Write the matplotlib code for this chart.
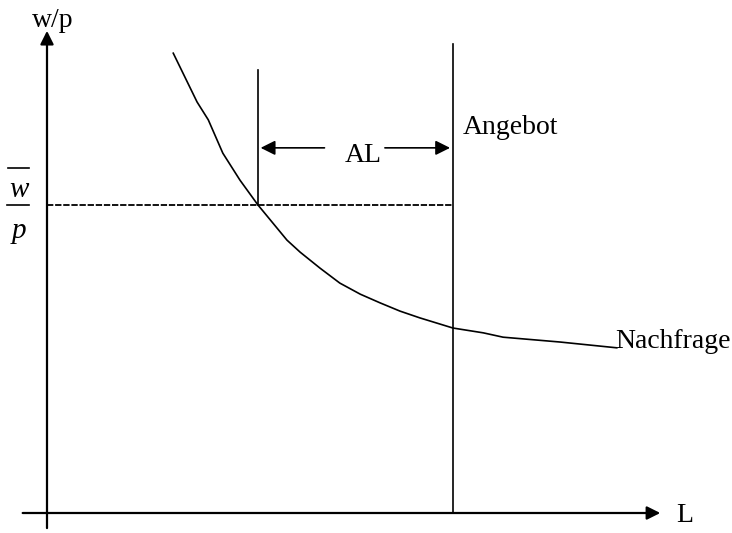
import matplotlib
matplotlib.use("Agg")
import matplotlib.pyplot as plt

plt.rcParams['font.family'] = ['Liberation Serif', 'DejaVu Serif']

# Nachfragekurve (Arbeitsnachfrage)
demand_L = [19.1, 22.7, 24.4, 26.6, 29.2, 31.9, 36.3, 38.3, 41.3, 44.3, 47.4,
            50.4, 53.4, 56.4, 61.4, 66.0, 69.0, 77.6, 86.2]
demand_w = [95.2, 85.1, 81.4, 74.5, 68.9, 63.8, 56.5, 54.0, 50.7, 47.6, 45.3,
            43.5, 41.8, 40.4, 38.3, 37.3, 36.4, 35.4, 34.2]

wage_min = 63.8        # Mindestlohn w/p
L_demand = 31.9        # Nachfrage beim Mindestlohn
L_supply = 61.4        # Angebot (senkrecht)
supply_top = 97.1
demand_mark_top = 91.7
al_level = 75.6

fig = plt.figure(figsize=(7.32, 5.33), dpi=100)
ax = fig.add_axes([0, 0, 1, 1])
ax.set_xlim(-7.11, 103.63)
ax.set_ylim(-4.14, 106.21)
ax.axis('off')

fs = 20

# Achsen mit Pfeilen
ax.annotate('', xy=(0, 100.4), xytext=(0, -3.7),
            arrowprops=dict(arrowstyle='-|>', lw=1.6, color='black', mutation_scale=20))
ax.annotate('', xy=(93.2, 0), xytext=(-4.1, 0),
            arrowprops=dict(arrowstyle='-|>', lw=1.6, color='black', mutation_scale=20))
ax.text(0.8, 101.9, 'w/p', fontsize=fs, ha='center', va='center')
ax.text(96.5, -0.6, 'L', fontsize=fs, ha='center', va='center')

# Nachfrage
ax.plot(demand_L, demand_w, color='black', lw=1.2)
ax.text(86.0, 35.6, 'Nachfrage', fontsize=fs, ha='left', va='center')

# Angebot
ax.plot([L_supply, L_supply], [0, supply_top], color='black', lw=1.2)
ax.text(62.9, 79.9, 'Angebot', fontsize=fs, ha='left', va='center')

# Mindestlohn gestrichelt
ax.plot([0, L_supply], [wage_min, wage_min], color='black', lw=1.3,
        linestyle=(0, (3.5, 1.0)))
ax.plot([L_demand, L_demand], [wage_min, demand_mark_top], color='black', lw=1.2)

# Arbeitslosigkeit AL
ax.annotate('', xy=(L_demand, al_level), xytext=(42.4, al_level),
            arrowprops=dict(arrowstyle='-|>', lw=1.2, color='black', mutation_scale=22))
ax.annotate('', xy=(L_supply, al_level), xytext=(50.7, al_level),
            arrowprops=dict(arrowstyle='-|>', lw=1.2, color='black', mutation_scale=22))
ax.text(47.8, 74.1, 'AL', fontsize=fs, ha='center', va='center')

# Beschriftung w-quer / p
ax.text(-4.3, 66.9, 'w', fontsize=21, style='italic', ha='center', va='center')
ax.plot([-5.9, -2.7], [71.5, 71.5], color='black', lw=1.2)
ax.plot([-6.0, -2.7], [63.8, 63.8], color='black', lw=1.2)
ax.text(-4.3, 58.3, 'p', fontsize=21, style='italic', ha='center', va='center')

fig.savefig('out.png', dpi=100)
